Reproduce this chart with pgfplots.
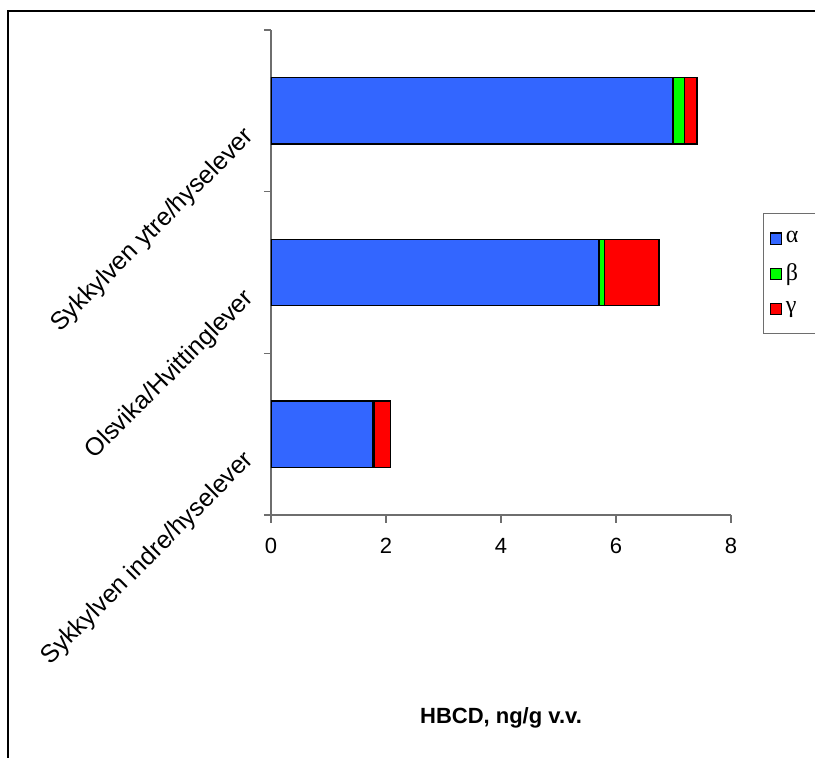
\documentclass[border=0pt]{standalone}
\usepackage{fontspec}
\setmainfont{Liberation Sans}
\newfontfamily\grk{Liberation Serif}
\usepackage{pgfplots}
\pgfplotsset{compat=1.18}
\definecolor{cA}{RGB}{51,102,255}
\definecolor{cB}{RGB}{0,255,0}
\definecolor{cG}{RGB}{255,0,0}
\definecolor{axc}{RGB}{110,110,110}
\begin{document}
\begin{tikzpicture}
\useasboundingbox (0pt,0pt) rectangle (407.5pt,-379pt);
\draw[line width=0.8pt] (4pt,-390pt) -- (4pt,-5.5pt) -- (420pt,-5.5pt);
\begin{axis}[
  at={(135.5pt,-257.5pt)}, anchor=south west,
  scale only axis, width=230pt, height=242.5pt,
  xbar stacked, bar width=0.41,
  xmin=0, xmax=8, ymin=-0.5, ymax=2.5,
  xtick={0,2,4,6,8},
  ytick={0,1,2},
  yticklabels={Sykkylven indre/hyselever, Olsvika/Hvittinglever, Sykkylven ytre/hyselever},
  minor ytick={-0.5,0.5,1.5,2.5},
  axis x line=bottom, axis y line=left,
  axis line style={-, axc, line width=0.6pt},
  tick align=outside,
  major tick length=4pt, minor tick length=3.5pt,
  major x tick style={axc, line width=0.6pt},
  major y tick style={draw=none},
  minor y tick style={axc, line width=0.6pt},
  /pgf/number format/assume math mode=true,
  xticklabel style={yshift=-4pt, font=\fontsize{11pt}{13pt}\selectfont},
  yticklabel style={rotate=45, anchor=north east, xshift=-9pt, yshift=6pt, font=\fontsize{12.5pt}{14pt}\selectfont},
  xlabel={\textbf{HBCD, ng/g v.v.}},
  xlabel style={at={(axis description cs:0.5,-0.4186)}, anchor=center, font=\fontsize{11pt}{13pt}\selectfont},
  legend style={at={(axis description cs:1.0696,0.6227)}, anchor=north west,
    draw=axc, line width=0.5pt, font=\fontsize{12pt}{14pt}\selectfont,
    row sep=5pt, inner xsep=3pt, inner ysep=7pt},
  legend cell align=left,
  legend image code/.code={\draw[#1, draw=black, line width=0.6pt] (0pt,-2.8pt) rectangle (5.6pt,2.8pt);},
]
\addplot[fill=cA, draw=black, line width=0.8pt] coordinates {(1.77,0) (5.70,1) (6.99,2)};
\addlegendentry{\makebox[50pt][l]{\grk α}}
\addplot[fill=cB, draw=black, line width=0.8pt] coordinates {(0.03,0) (0.10,1) (0.20,2)};
\addlegendentry{\makebox[50pt][l]{\grk β}}
\addplot[fill=cG, draw=black, line width=0.8pt] coordinates {(0.28,0) (0.95,1) (0.22,2)};
\addlegendentry{\makebox[50pt][l]{\grk γ}}
\end{axis}
\end{tikzpicture}
\end{document}
